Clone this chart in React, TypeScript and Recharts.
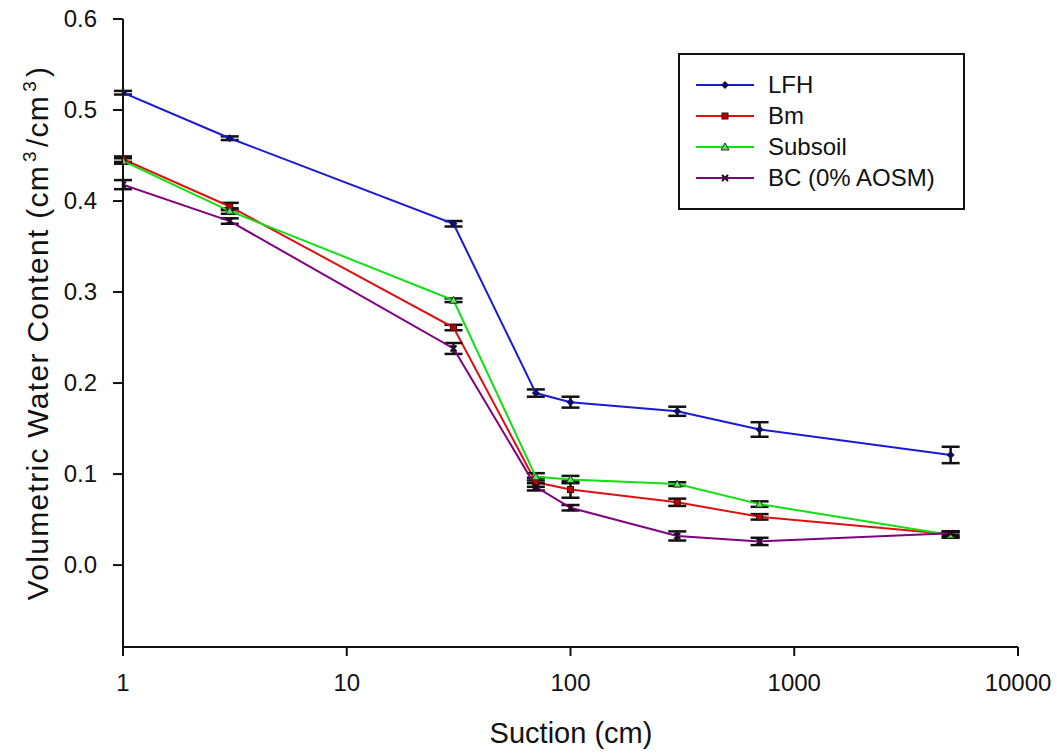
import { ComposedChart, Line, XAxis, YAxis, ErrorBar, Legend, Label } from 'recharts';

const suction = [1, 3, 30, 70, 100, 300, 700, 5000];

const lfh = [0.519, 0.469, 0.375, 0.189, 0.179, 0.169, 0.149, 0.121];
const lfhErr = [0.002, 0.002, 0.003, 0.004, 0.006, 0.005, 0.008, 0.009];
const bm = [0.446, 0.394, 0.261, 0.091, 0.083, 0.069, 0.053, 0.034];
const bmErr = [0.003, 0.004, 0.003, 0.005, 0.009, 0.004, 0.003, 0.003];
const subsoil = [0.444, 0.389, 0.291, 0.097, 0.094, 0.089, 0.067, 0.033];
const subsoilErr = [0.003, 0.003, 0.002, 0.004, 0.004, 0.002, 0.003, 0.003];
const bc = [0.418, 0.378, 0.238, 0.086, 0.063, 0.032, 0.026, 0.035];
const bcErr = [0.005, 0.003, 0.006, 0.004, 0.003, 0.005, 0.004, 0.002];

const xTicks = [1, 10, 100, 1000, 10000];
const yTicks = [0, 0.1, 0.2, 0.3, 0.4, 0.5, 0.6];

const series = [
  { key: 'lfh', name: 'LFH', color: '#1a1ad6', marker: 'diamond' },
  { key: 'bm', name: 'Bm', color: '#e01010', marker: 'square' },
  { key: 'subsoil', name: 'Subsoil', color: '#10e010', marker: 'triangle' },
  { key: 'bc', name: 'BC (0% AOSM)', color: '#800080', marker: 'cross' },
];

const data = suction.map((x, i) => ({
  x,
  lfh: lfh[i], lfhErr: lfhErr[i],
  bm: bm[i], bmErr: bmErr[i],
  subsoil: subsoil[i], subsoilErr: subsoilErr[i],
  bc: bc[i], bcErr: bcErr[i],
}));

const FONT = 'Arial, "Liberation Sans", sans-serif';
const INK = '#111';

function Marker({ cx, cy, type, size = 4 }: { cx: number; cy: number; type: string; size?: number }) {
  if (cx == null || cy == null) return null;
  const s = size;
  if (type === 'diamond')
    return <path d={`M${cx},${cy - s} L${cx + s},${cy} L${cx},${cy + s} L${cx - s},${cy} Z`} fill="#101060" />;
  if (type === 'square')
    return <rect x={cx - s + 1} y={cy - s + 1} width={2 * s - 2} height={2 * s - 2} fill="#c00000" stroke="#400000" strokeWidth={1} />;
  if (type === 'triangle')
    return <path d={`M${cx},${cy - s} L${cx + s},${cy + s - 1} L${cx - s},${cy + s - 1} Z`} fill="#60e060" stroke="#104010" strokeWidth={1} />;
  return (
    <path d={`M${cx - s + 1},${cy - s + 1} L${cx + s - 1},${cy + s - 1} M${cx - s + 1},${cy + s - 1} L${cx + s - 1},${cy - s + 1}`} stroke="#200020" strokeWidth={2} />
  );
}

function LegendBox() {
  return (
    <div
      style={{
        position: 'absolute',
        left: 678,
        top: 53,
        width: 287,
        height: 157,
        border: '2px solid ' + INK,
        background: '#fff',
        fontFamily: FONT,
        fontSize: 24,
        color: INK,
        boxSizing: 'border-box',
      }}
    >
      {series.map((s, i) => (
        <div key={s.key} style={{ position: 'absolute', left: 16, top: 15 + i * 31, height: 30, display: 'flex', alignItems: 'center', whiteSpace: 'nowrap' }}>
          <svg width={60} height={20}>
            <line x1={0} y1={10} x2={58} y2={10} stroke={s.color} strokeWidth={2} />
            <Marker cx={29} cy={10} type={s.marker} size={4} />
          </svg>
          <span style={{ marginLeft: 12 }}>{s.name}</span>
        </div>
      ))}
    </div>
  );
}

function XTick({ x, y, payload }: any) {
  return (
    <text x={x} y={y + 33} textAnchor="middle" fontFamily={FONT} fontSize={24} fill={INK}>
      {payload.value}
    </text>
  );
}

function YTick({ x, y, payload }: any) {
  return (
    <text x={x - 14} y={y + 8} textAnchor="end" fontFamily={FONT} fontSize={24} fill={INK}>
      {Number(payload.value).toFixed(1)}
    </text>
  );
}

function YTitle() {
  const cx = 38;
  const cy = 333;
  return (
    <text x={cx} y={cy} dy={10} transform={`rotate(-90, ${cx}, ${cy})`} textAnchor="middle" fontFamily={FONT} fontSize={30} letterSpacing={1.3} fill={INK}>
      Volumetric Water Content (cm
      <tspan dx={3} dy={-12} fontSize={19}>3</tspan>
      <tspan dx={3} dy={12}>/cm</tspan>
      <tspan dx={3} dy={-12} fontSize={19}>3</tspan>
      <tspan dx={3} dy={12}>)</tspan>
    </text>
  );
}

function XTitle() {
  return (
    <text x={571} y={743} textAnchor="middle" fontFamily={FONT} fontSize={29} fill={INK}>
      Suction (cm)
    </text>
  );
}

export default function App() {
  return (
    <div style={{ position: 'absolute', left: 0, top: 0, width: 1057, height: 753, background: '#fff' }}>
      <ComposedChart width={1057} height={753} data={data} margin={{ top: 19, right: 39, left: 0, bottom: 0 }}>
        <XAxis
          dataKey="x"
          type="number"
          scale="log"
          domain={[1, 10000]}
          ticks={xTicks}
          allowDataOverflow
          height={106}
          stroke={INK}
          strokeWidth={2}
          tickSize={9}
          tickLine={{ stroke: INK, strokeWidth: 2 }}
          tick={<XTick />}
        >
          <Label content={<XTitle />} />
        </XAxis>
        <XAxis xAxisId="top" orientation="top" dataKey="x" type="number" scale="log" domain={[1, 10000]} height={0} tick={false} tickLine={false} stroke={INK} strokeWidth={2} />
        <YAxis
          type="number"
          domain={[-0.09, 0.6]}
          ticks={yTicks}
          allowDataOverflow
          width={123}
          stroke={INK}
          strokeWidth={2}
          tickSize={10}
          tickLine={{ stroke: INK, strokeWidth: 2 }}
          tick={<YTick />}
        >
          <Label content={<YTitle />} />
        </YAxis>
        <YAxis yAxisId="right" orientation="right" domain={[-0.09, 0.6]} width={0} tick={false} tickLine={false} stroke={INK} strokeWidth={2} />
        {series.map((s) => (
          <Line
            key={s.key}
            dataKey={s.key}
            name={s.name}
            stroke={s.color}
            strokeWidth={2}
            isAnimationActive={false}
            dot={(p: any) => <Marker key={`${s.key}-${p.index}`} cx={p.cx} cy={p.cy} type={s.marker} size={4} />}
            activeDot={false}
          >
            <ErrorBar dataKey={`${s.key}Err`} direction="y" width={9} stroke={INK} strokeWidth={2.5} />
          </Line>
        ))}
        <Legend content={() => <LegendBox />} wrapperStyle={{ position: 'absolute', left: 0, top: 0, width: 0, height: 0 }} />
      </ComposedChart>
    </div>
  );
}
